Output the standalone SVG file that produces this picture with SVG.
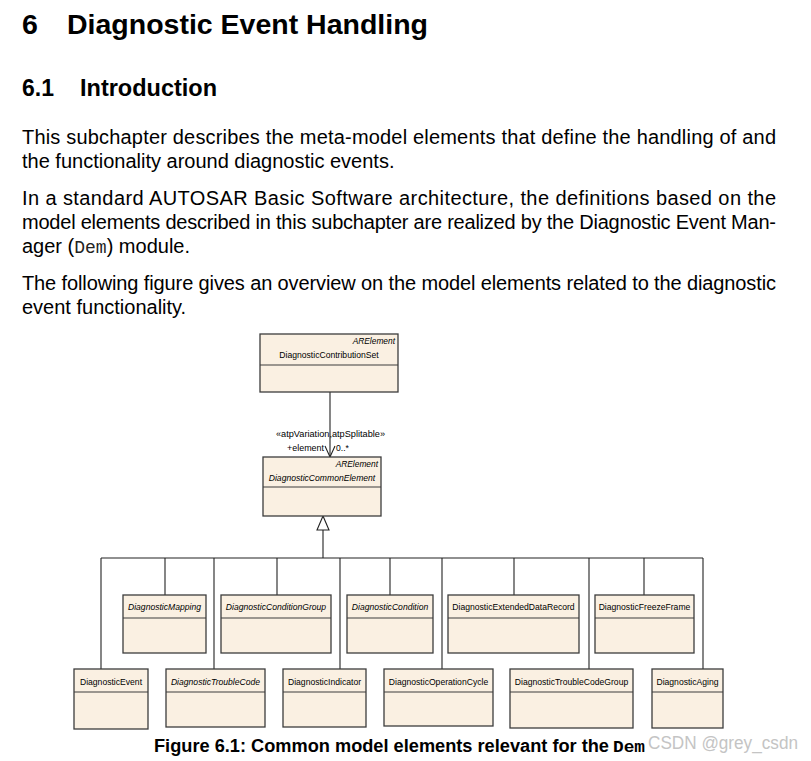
<svg xmlns="http://www.w3.org/2000/svg" width="811" height="761" viewBox="0 0 811 761">
<style>
.h1{font-family:"Liberation Sans",Arial,sans-serif;font-weight:bold;font-size:28.5px;fill:#000}
.h2{font-family:"Liberation Sans",Arial,sans-serif;font-weight:bold;font-size:23px;fill:#000}
.body{font-family:"Liberation Sans",Arial,sans-serif;font-size:20px;fill:#000}
.mono{font-family:"Liberation Mono","Courier New",monospace;font-size:18px;fill:#222}
.cap{font-family:"Liberation Sans",Arial,sans-serif;font-weight:bold;font-size:17.5px;fill:#000}
.capm{font-family:"Liberation Mono","Courier New",monospace;font-weight:bold;font-size:17px;fill:#000}
.wm{font-family:"Liberation Sans",Arial,sans-serif;font-size:18px;fill:#c4c4c4}
.box rect{fill:#FAF0E2;stroke:#3c3c3c;stroke-width:1.3}
.box line{stroke:#3c3c3c;stroke-width:1.2}
.nm{font-family:"Liberation Sans",Arial,sans-serif;font-size:8.6px;fill:#000;text-anchor:middle}
.it{font-style:italic}
.st{font-family:"Liberation Sans",Arial,sans-serif;font-size:8.4px;font-style:italic;fill:#000;text-anchor:end}
.lbl{font-family:"Liberation Sans",Arial,sans-serif;font-size:8.6px;fill:#000}
.conn line,.conn polyline{stroke:#222;stroke-width:1.1;fill:none}
</style>

<text class="h1" x="22" y="34">6</text>
<text class="h1" x="67" y="34" textLength="361" lengthAdjust="spacingAndGlyphs">Diagnostic Event Handling</text>
<text class="h2" x="22" y="96">6.1</text>
<text class="h2" x="80" y="96" textLength="137" lengthAdjust="spacingAndGlyphs">Introduction</text>

<text class="body" x="22" y="144" textLength="754" lengthAdjust="spacing">This subchapter describes the meta-model elements that define the handling of and</text>
<text class="body" x="22" y="168">the functionality around diagnostic events.</text>
<text class="body" x="22" y="205" textLength="754" lengthAdjust="spacing">In a standard AUTOSAR Basic Software architecture, the definitions based on the</text>
<text class="body" x="22" y="229" textLength="754" lengthAdjust="spacing">model elements described in this subchapter are realized by the Diagnostic Event Man-</text>
<text class="body" x="22" y="253">ager (<tspan class="mono">Dem</tspan>) module.</text>
<text class="body" x="22" y="290" textLength="754" lengthAdjust="spacing">The following figure gives an overview on the model elements related to the diagnostic</text>
<text class="body" x="22" y="314">event functionality.</text>

<g id="connectors" class="conn">
  <line x1="330" y1="392" x2="330" y2="457"/>
  <polyline points="325,446 330,457 335,446"/>
  <polygon points="323,516 317,530 329,530" style="fill:#fff;stroke:#222;stroke-width:1.1"/>
  <line x1="323" y1="530" x2="323" y2="558"/>
  <line x1="101" y1="558" x2="703" y2="558"/>
  <line x1="101" y1="558" x2="101" y2="669"/>
  <line x1="165" y1="558" x2="165" y2="595"/>
  <line x1="214" y1="558" x2="214" y2="669"/>
  <line x1="277" y1="558" x2="277" y2="595"/>
  <line x1="340" y1="558" x2="340" y2="669"/>
  <line x1="390" y1="558" x2="390" y2="595"/>
  <line x1="442" y1="558" x2="442" y2="669"/>
  <line x1="514" y1="558" x2="514" y2="595"/>
  <line x1="589" y1="558" x2="589" y2="669"/>
  <line x1="644" y1="558" x2="644" y2="595"/>
  <line x1="703" y1="558" x2="703" y2="669"/>
  <text class="lbl" x="276" y="437" textLength="109" lengthAdjust="spacingAndGlyphs">«atpVariation,atpSplitable»</text>
  <text class="lbl" x="287" y="451" textLength="37" lengthAdjust="spacingAndGlyphs">+element</text>
  <text class="lbl" x="336" y="451">0..*</text>
</g>

<g id="DiagnosticContributionSet" class="box">
  <rect x="260" y="334" width="138" height="58"/>
  <line x1="260" y1="365" x2="398" y2="365"/>
  <text class="st" x="395" y="344">ARElement</text>
  <text class="nm" x="329" y="358">DiagnosticContributionSet</text>
</g>
<g id="DiagnosticCommonElement" class="box">
  <rect x="263" y="457" width="118" height="59"/>
  <line x1="263" y1="487" x2="381" y2="487"/>
  <text class="st" x="378" y="467">ARElement</text>
  <text class="nm it" x="322" y="481">DiagnosticCommonElement</text>
</g>

<g id="DiagnosticMapping" class="box">
  <rect x="123" y="595" width="83" height="58"/>
  <line x1="123" y1="618" x2="206" y2="618"/>
  <text class="nm it" x="164.5" y="610">DiagnosticMapping</text>
</g>
<g id="DiagnosticConditionGroup" class="box">
  <rect x="221" y="595" width="110" height="58"/>
  <line x1="221" y1="618" x2="331" y2="618"/>
  <text class="nm it" x="276" y="610">DiagnosticConditionGroup</text>
</g>
<g id="DiagnosticCondition" class="box">
  <rect x="347" y="595" width="86" height="58"/>
  <line x1="347" y1="618" x2="433" y2="618"/>
  <text class="nm it" x="390" y="610">DiagnosticCondition</text>
</g>
<g id="DiagnosticExtendedDataRecord" class="box">
  <rect x="448" y="595" width="131" height="58"/>
  <line x1="448" y1="618" x2="579" y2="618"/>
  <text class="nm" x="513.5" y="610">DiagnosticExtendedDataRecord</text>
</g>
<g id="DiagnosticFreezeFrame" class="box">
  <rect x="595" y="595" width="99" height="58"/>
  <line x1="595" y1="618" x2="694" y2="618"/>
  <text class="nm" x="644.5" y="610">DiagnosticFreezeFrame</text>
</g>

<g id="DiagnosticEvent" class="box">
  <rect x="74" y="669" width="74" height="60"/>
  <line x1="74" y1="692" x2="148" y2="692"/>
  <text class="nm" x="111" y="685">DiagnosticEvent</text>
</g>
<g id="DiagnosticTroubleCode" class="box">
  <rect x="166" y="669" width="99" height="58"/>
  <line x1="166" y1="692" x2="265" y2="692"/>
  <text class="nm it" x="215.5" y="685">DiagnosticTroubleCode</text>
</g>
<g id="DiagnosticIndicator" class="box">
  <rect x="283" y="669" width="83" height="58"/>
  <line x1="283" y1="692" x2="366" y2="692"/>
  <text class="nm" x="324.5" y="685">DiagnosticIndicator</text>
</g>
<g id="DiagnosticOperationCycle" class="box">
  <rect x="384" y="669" width="109" height="57"/>
  <line x1="384" y1="692" x2="493" y2="692"/>
  <text class="nm" x="438.5" y="685">DiagnosticOperationCycle</text>
</g>
<g id="DiagnosticTroubleCodeGroup" class="box">
  <rect x="510" y="669" width="123" height="59"/>
  <line x1="510" y1="692" x2="633" y2="692"/>
  <text class="nm" x="571.5" y="685">DiagnosticTroubleCodeGroup</text>
</g>
<g id="DiagnosticAging" class="box">
  <rect x="652" y="669" width="71" height="59"/>
  <line x1="652" y1="692" x2="723" y2="692"/>
  <text class="nm" x="687.5" y="685">DiagnosticAging</text>
</g>

<text class="cap" x="154" y="752" textLength="455" lengthAdjust="spacingAndGlyphs">Figure 6.1: Common model elements relevant for the</text>
<text class="capm" x="613" y="752" textLength="32" lengthAdjust="spacingAndGlyphs">Dem</text>
<text class="wm" x="648" y="749" textLength="150" lengthAdjust="spacingAndGlyphs">CSDN @grey_csdn</text>
</svg>
